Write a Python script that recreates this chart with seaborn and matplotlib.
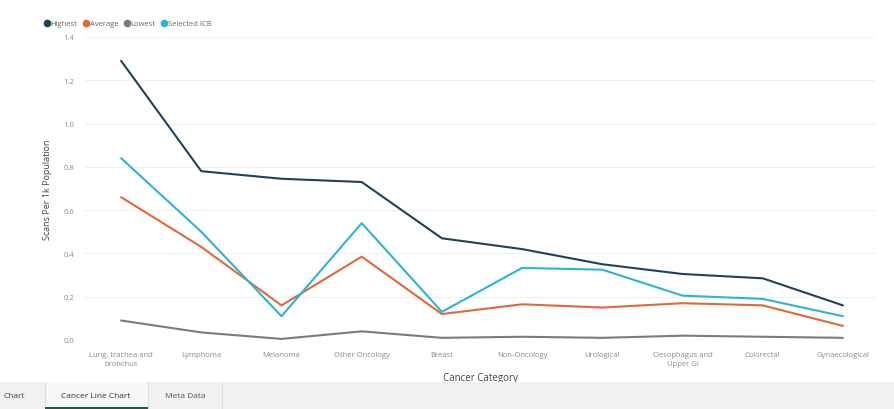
import matplotlib
matplotlib.use("Agg")
import matplotlib.pyplot as plt
import seaborn as sns
import pandas as pd
from matplotlib.patches import Rectangle
from matplotlib.lines import Line2D

categories = ["Lung, trachea and\nbronchus", "Lymphoma", "Melanoma", "Other Oncology", "Breast",
              "Non-Oncology", "Urological", "Oesophagus and\nUpper GI", "Colorectal", "Gynaecological"]
highest = [1.29, 0.78, 0.745, 0.73, 0.47, 0.42, 0.35, 0.305, 0.285, 0.16]
average = [0.66, 0.43, 0.16, 0.385, 0.12, 0.165, 0.15, 0.17, 0.16, 0.065]
lowest = [0.09, 0.035, 0.005, 0.04, 0.01, 0.015, 0.01, 0.02, 0.015, 0.01]
selected = [0.84, 0.50, 0.11, 0.54, 0.13, 0.333, 0.325, 0.205, 0.19, 0.11]
series_names = ["Highest", "Average", "Lowest", "Selected ICB"]
colors = ["#1f4257", "#e0683a", "#7b7b7b", "#2db4d4"]
yticks = [0.0, 0.2, 0.4, 0.6, 0.8, 1.0, 1.2, 1.4]

rows = []
for name, vals in zip(series_names, [highest, average, lowest, selected]):
    for i, (c, v) in enumerate(zip(categories, vals)):
        rows.append({"pos": i, "Category": c, "Series": name, "Value": v})
df = pd.DataFrame(rows)

sns.set_theme(style="white")
plt.rcParams['font.family'] = ['Open Sans', 'DejaVu Sans']

fig = plt.figure(figsize=(8.95, 4.10), dpi=100)
ax = fig.add_axes([85/895, (410-341)/410, (875-85)/895, (341-38)/410])

order = ["Highest", "Average", "Lowest", "Selected ICB"]
palette = dict(zip(series_names, colors))
sns.lineplot(data=df, x="pos", y="Value", hue="Series", hue_order=order, palette=palette,
             linewidth=1.5, ax=ax, legend=False, sort=False)
for ln in ax.lines:
    ln.set_clip_on(False)

ax.set_xlim(-0.45, len(categories) - 0.6)
ax.set_ylim(0, 1.4)
ax.set_yticks(yticks)
ax.set_yticklabels([f"{t:.1f}" for t in yticks], fontsize=5.5, color="#8a8a8a")
ax.set_xticks(range(len(categories)))
ax.set_xticklabels(categories, fontsize=5.5, color="#8a8a8a", linespacing=1.3)
ax.tick_params(axis="both", length=0, pad=8)
ax.grid(axis="y", color="#f0f0f0", linewidth=0.8)
ax.grid(axis="x", visible=False)
for s in ax.spines.values():
    s.set_visible(False)
ax.set_xlabel("Cancer Category", fontsize=7, color="#444444", labelpad=4)
ax.set_ylabel("Scans Per 1k Population", fontsize=6.5, color="#444444", labelpad=8)

handles = [Line2D([0], [0], marker="o", color="none", markerfacecolor=c, markeredgecolor=c,
                  markersize=4.5) for c in colors]
fig.legend(handles, series_names, loc="upper left", bbox_to_anchor=(36/895, 1 - 14/410),
           ncol=4, frameon=False, fontsize=5.5, handletextpad=0.0, columnspacing=0.6,
           handlelength=1.0, labelcolor="#666666")

# bottom tab bar
fig.patches.append(Rectangle((0, 0), 1, 27/410, transform=fig.transFigure,
                             facecolor="#f1f1f1", edgecolor="none", zorder=0))
fig.patches.append(Rectangle((45/895, 0), 103/895, 27/410, transform=fig.transFigure,
                             facecolor="#f7f7f7", edgecolor="none", zorder=1))
fig.patches.append(Rectangle((45/895, 0), 103/895, 2.5/410, transform=fig.transFigure,
                             facecolor="#1d5a4a", edgecolor="none", zorder=2))
for xs in [45, 148, 222]:
    fig.lines.append(Line2D([xs/895, xs/895], [0, 27/410], transform=fig.transFigure,
                            color="#dddddd", linewidth=0.8))
fig.text(4/895, 13/410, "Chart", fontsize=6, color="#444444", va="center")
fig.text(96/895, 13/410, "Cancer Line Chart", fontsize=6, color="#333333", va="center", ha="center")
fig.text(185/895, 13/410, "Meta Data", fontsize=6, color="#555555", va="center", ha="center")

fig.savefig("out.png", dpi=100, facecolor="white")
